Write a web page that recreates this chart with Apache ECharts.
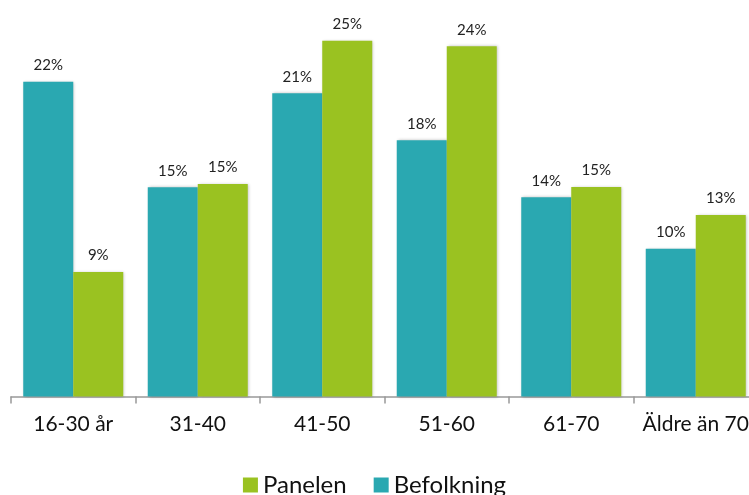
<!DOCTYPE html>
<html>
<head>
<meta charset="utf-8">
<script src="https://cdn.jsdelivr.net/npm/echarts@6/dist/echarts.min.js"></script>
<style>html,body{margin:0;padding:0;background:#fff;}#c{width:749px;height:495px;}</style>
</head>
<body>
<div id="c"></div>
<script>
var categories = ['16-30 år', '31-40', '41-50', '51-60', '61-70', 'Äldre än 70'];
var befolkning = [21.94, 14.58, 21.13, 17.85, 13.88, 10.3];
var panelen = [8.68, 14.81, 24.79, 24.4, 14.6, 12.65];

var chart = echarts.init(document.getElementById('c'));
var FONT = 'Lato';
function lbl(p) { return Math.round(p.value) + '%'; }
var shadow = { shadowBlur: 3, shadowColor: 'rgba(0,0,0,0.25)', shadowOffsetX: 1, shadowOffsetY: 0 };
chart.setOption({
  animation: false,
  textStyle: { fontFamily: FONT },
  grid: { left: 11, width: 747, top: 9.05, height: 387.45, containLabel: false, outerBoundsMode: 'none' },
  legend: {
    data: ['Panelen', 'Befolkning'],
    top: 468,
    left: 'center',
    icon: 'rect',
    itemWidth: 15,
    itemHeight: 15,
    itemGap: 27,
    textStyle: { fontSize: 24, color: '#111', fontFamily: FONT }
  },
  xAxis: {
    type: 'category',
    data: categories,
    axisLine: { lineStyle: { color: '#999', width: 1.5 } },
    axisTick: { show: true, interval: 0, length: 7, lineStyle: { color: '#999', width: 1.5 } },
    axisLabel: { interval: 0, fontSize: 21, color: '#111', margin: 17, fontFamily: FONT }
  },
  yAxis: {
    type: 'value',
    min: 0,
    max: 27,
    show: false,
    splitLine: { show: false }
  },
  series: [
    {
      name: 'Befolkning',
      type: 'bar',
      data: befolkning,
      barWidth: 50,
      barGap: '0%',
      itemStyle: Object.assign({ color: '#2AA8B1' }, shadow),
      label: { show: true, position: 'top', distance: 9, formatter: lbl, fontSize: 15, color: '#222', fontFamily: FONT }
    },
    {
      name: 'Panelen',
      type: 'bar',
      data: panelen,
      barWidth: 50,
      barGap: '0%',
      itemStyle: Object.assign({ color: '#9AC221' }, shadow),
      label: { show: true, position: 'top', distance: 9, formatter: lbl, fontSize: 15, color: '#222', fontFamily: FONT }
    }
  ]
});
</script>
</body>
</html>
